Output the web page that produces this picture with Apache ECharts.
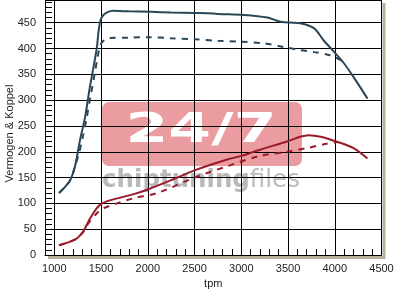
<!DOCTYPE html>
<html><head><meta charset="utf-8">
<script src="https://cdn.jsdelivr.net/npm/echarts@6/dist/echarts.min.js"></script>
<style>html,body{margin:0;padding:0;background:#fff}#c{width:404px;height:297px}</style>
</head><body><div id="c"></div>
<script>
// Tuned torque (solid blue)
const tunedTorqueRpm = [1050,1110,1170,1220,1275,1330,1375,1420,1455,1475,1500,1545,1630,1800,2030,2250,2500,2700,2750,3030,3280,3420,3630,3780,3880,3990,4100,4200,4350];
const tunedTorque    = [120,131,145,171,223,268,320,365,402,436,458,468,473,472,471,470,469,468,467,465,460,452,449,439,416,394,371,345,303];
// Stock torque (dashed blue)
const stockTorqueRpm = [1050,1110,1170,1220,1260,1300,1345,1390,1430,1465,1490,1520,1580,1800,2000,2250,2500,2750,3000,3250,3450,3630,3780,3950,4080];
const stockTorque    = [120,131,145,171,195,225,265,310,350,385,405,414,420,421,422,420,418,415,413,410,403,397,393,387,376];
// Tuned power (solid red)
const tunedPowerRpm = [1050,1170,1240,1310,1380,1450,1510,1600,1850,2000,2250,2500,2850,3000,3200,3490,3630,3720,3850,4030,4200,4350];
const tunedPower    = [19,26,32,46,70,90,100,106,118,127,145,164,185,192,204,220,229,232,229,219,207,187];
// Stock power (dashed red)
const stockPowerRpm = [1050,1170,1240,1310,1350,1450,1520,1670,1850,2100,2500,2850,3200,3490,3700,3900,4030];
const stockPower    = [19,26,32,45,58,80,90,100,110,120,150,172,192,200,207,215,219];

const xTitle = 'tpm';
const yTitle = 'Vermogen & Koppel';

const pairs = (xs, ys) => xs.map((x, i) => [x, ys[i]]);
const blue = '#2b4657', red = '#991b2b';
const lab = {fontFamily:'Liberation Sans', fontSize:11, color:'#222'};
const shadow = '#b7b09a';

const chart = echarts.init(document.getElementById('c'), null, {renderer:'canvas'});
chart.setOption({
  animation:false,
  backgroundColor:'#fff',
  grid:{left:45, right:22.5, top:0, bottom:42},
  xAxis:[
    {type:'value', min:900, max:4500, splitNumber:7, position:'bottom',
      name:xTitle, nameLocation:'middle', nameGap:22, nameTextStyle:lab,
      axisLine:{show:true, onZero:false, lineStyle:{color:'#000', width:1}},
      axisTick:{show:false},
      splitLine:{show:true, lineStyle:{color:'#000', width:1}},
      axisLabel:Object.assign({margin:8, formatter:v => (v % 500 === 0 && v >= 1000) ? String(v) : ''}, lab)},
    {type:'value', min:900, max:4500, interval:100, position:'bottom',
      axisLine:{show:false}, axisLabel:{show:false}, splitLine:{show:false},
      axisTick:{show:true, inside:true, length:6, lineStyle:{color:'#000', width:1}}}
  ],
  yAxis:[
    {type:'value', min:0, max:494, interval:50, position:'left',
      axisLine:{show:true, onZero:false, lineStyle:{color:'#000', width:1}},
      axisTick:{show:false},
      splitLine:{show:true, lineStyle:{color:'#000', width:1}},
      axisLabel:Object.assign({margin:9, formatter:v => (v % 50 === 0) ? String(v) : ''}, lab)},
    {type:'value', min:0, max:494, interval:10, position:'left',
      axisLine:{show:false}, axisLabel:{show:false}, splitLine:{show:false},
      axisTick:{show:true, inside:true, length:7, lineStyle:{color:'#000', width:1}}}
  ],
  graphic:[
    {type:'rect', z:-10, shape:{x:48, y:256, width:337, height:3}, style:{fill:shadow}, silent:true},
    {type:'rect', z:-10, shape:{x:382.5, y:3, width:3, height:256}, style:{fill:shadow}, silent:true},
    {type:'rect', z:-5, shape:{x:102, y:102, width:200, height:64, r:7}, style:{fill:'rgb(234,156,160)'}, silent:true},
    {type:'text', z:-5, x:201, y:131, scaleX:1.5, style:{text:'24/7', fill:'#fff', font:'bold 41px "DejaVu Sans"', align:'center', verticalAlign:'middle'}, silent:true},
    {type:'text', z:-5, x:201, y:181, scaleX:1.02, style:{text:'{a|chiptuning}{b|files}', align:'center', verticalAlign:'middle',
       rich:{a:{fill:'#b9b9b9', font:'bold 24px "DejaVu Sans"'}, b:{fill:'#bebebe', font:'24px "DejaVu Sans"'}}}, silent:true},
    {type:'text', x:9.5, y:133.5, rotation:Math.PI/2, style:{text:yTitle, fill:'#222', font:'11px "Liberation Sans"', align:'center', verticalAlign:'middle'}, silent:true}
  ],
  series:[
    {type:'line', data:pairs(tunedTorqueRpm, tunedTorque), showSymbol:false, smooth:0.3, lineStyle:{color:blue, width:2}},
    {type:'line', data:pairs(stockTorqueRpm, stockTorque), showSymbol:false, smooth:0.3, lineStyle:{color:blue, width:2, type:[6,6]}},
    {type:'line', data:pairs(tunedPowerRpm, tunedPower), showSymbol:false, smooth:0.3, lineStyle:{color:red, width:2}},
    {type:'line', data:pairs(stockPowerRpm, stockPower), showSymbol:false, smooth:0.3, lineStyle:{color:red, width:2, type:[6,6]}}
  ]
});
</script></body></html>
